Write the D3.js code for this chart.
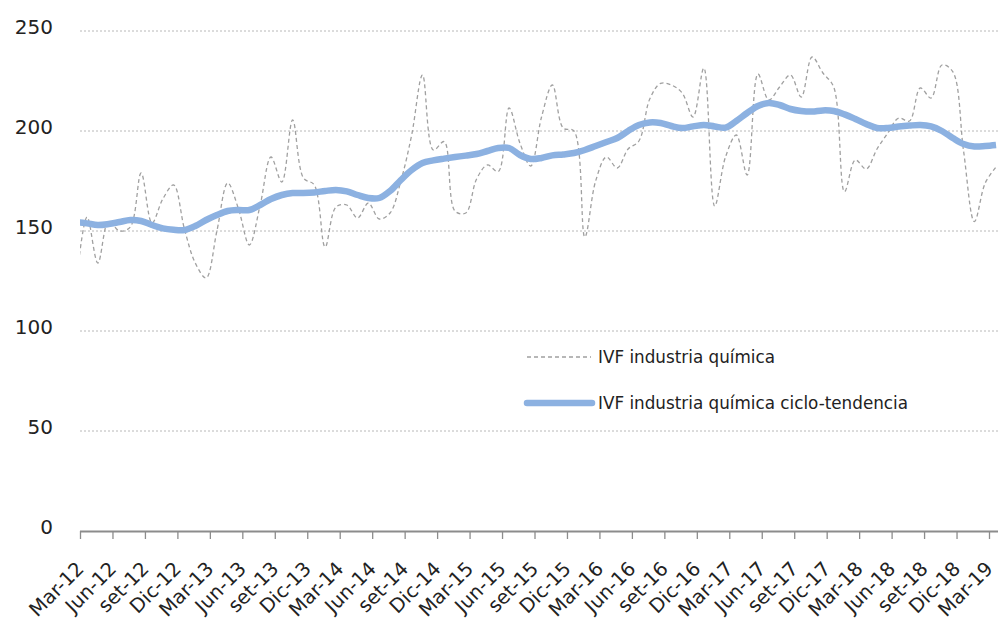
<!DOCTYPE html>
<html>
<head>
<meta charset="utf-8">
<script src="https://cdnjs.cloudflare.com/ajax/libs/d3/7.8.5/d3.min.js"></script>
<style>
  body { margin: 0; background: #fff; }
  svg { display: block; font-family: "DejaVu Sans", sans-serif; }
  .grid line { stroke: #b8b8b8; stroke-width: 1; stroke-dasharray: 2,2; }
  .ylab { font-size: 20px; fill: #222; }
  .xlab { font-size: 19.5px; fill: #222; }
  .legend text { font-size: 16.8px; fill: #222; }
</style>
</head>
<body>
<svg width="998" height="625"></svg>
<script>
// monthly series, Mar-12 .. Apr-19
var ivf = [124, 157, 134, 155, 150, 152, 179, 154, 166, 173, 151, 134,
  126.5, 150, 174, 161, 143, 163, 187, 174.5, 205.5, 176.5, 173, 142,
  162, 163, 156.5, 164, 156, 159, 175, 198, 228, 190.5, 194.7, 160,
  159, 176, 183, 179.7, 211.5, 194, 182.5, 207, 223, 201.5, 200, 147,
  175, 187, 181.5, 191, 195, 216, 223.8, 223, 219, 207, 231.5, 162.5,
  187, 198, 178, 228.5, 215.5, 222, 228, 217, 237, 229, 222, 169.7,
  185.5, 181, 191, 199, 206.5, 205, 221.5, 216.5, 233, 229.7, 190, 154.7,
  174, 182];

var ivfTrend = [154.5, 153.8, 153, 153.5, 154.5, 155.5, 155, 153, 151.3, 150.6, 150.5, 152.5,
  155.5, 158, 160, 160.5, 160.5, 163, 166, 168, 169, 169, 169.3, 170,
  170.5, 169.8, 168, 166.5, 166.5, 170, 175.5, 180.5, 184, 185.3, 186.2, 187,
  187.7, 188.5, 190, 191.5, 191.5, 188, 186, 186.5, 187.8, 188.3, 189, 190.5,
  192.5, 194.5, 196.5, 200, 203, 204.3, 204, 202.5, 201.5, 202.3, 203, 202.3,
  201.7, 205, 209, 212.5, 214, 213, 211, 210, 209.7, 210.3, 210, 208.3,
  206, 203.5, 201.5, 201.5, 202.2, 202.7, 203, 202.3, 200, 196.5, 193.5, 192.3,
  192.5, 193];

var tickLabels = ["Mar-12", "Jun-12", "set-12", "Dic-12", "Mar-13", "Jun-13", "set-13", "Dic-13",
  "Mar-14", "Jun-14", "set-14", "Dic-14", "Mar-15", "Jun-15", "set-15", "Dic-15",
  "Mar-16", "Jun-16", "set-16", "Dic-16", "Mar-17", "Jun-17", "set-17", "Dic-17",
  "Mar-18", "Jun-18", "set-18", "Dic-18", "Mar-19"];

var yTicks = [0, 50, 100, 150, 200, 250];

var seriesNames = ["IVF industria química", "IVF industria química ciclo-tendencia"];

(function () {
  var svg = d3.select("svg"),
      width = +svg.attr("width"),
      height = +svg.attr("height");

  var mLeft = 80, mRight = width, mTop = 31, mBottom = 531;

  // month index scale: Mar-12 = 0, Mar-19 = 84
  var x = d3.scaleLinear().domain([0, 84]).range([mLeft, 989]);
  var y = d3.scaleLinear().domain([0, 250]).range([mBottom, mTop]);
  var dataShift = -0.35;  // points sit a bit left of the month ticks

  svg.append("defs").append("clipPath").attr("id", "plot")
    .append("rect").attr("x", mLeft).attr("y", 0).attr("width", mRight - mLeft).attr("height", height);

  // gridlines
  svg.append("g").attr("class", "grid")
    .selectAll("line")
    .data(yTicks.filter(function (d) { return d > 0; }))
    .enter().append("line")
      .attr("x1", mLeft).attr("x2", mRight)
      .attr("y1", function (d) { return y(d); })
      .attr("y2", function (d) { return y(d); });

  // y labels
  svg.append("g")
    .selectAll("text")
    .data(yTicks)
    .enter().append("text")
      .attr("class", "ylab")
      .attr("x", 53)
      .attr("y", function (d) { return y(d) - 3; })
      .attr("text-anchor", "end")
      .attr("dy", "0.32em")
      .text(function (d) { return d; });

  // x axis
  var xAxis = d3.axisBottom(x)
    .tickValues(d3.range(0, 85, 3))
    .tickSize(8)
    .tickFormat("");

  var ax = svg.append("g")
    .attr("transform", "translate(0," + mBottom + ")")
    .call(xAxis);
  ax.select(".domain").attr("d", "M" + mLeft + ",0.5H" + mRight).attr("stroke", "#8c8c8c").attr("stroke-width", 2);
  ax.selectAll(".tick line").attr("stroke", "#8c8c8c").attr("stroke-width", 1.3);

  svg.append("g")
    .selectAll("text")
    .data(tickLabels)
    .enter().append("text")
      .attr("class", "xlab")
      .attr("text-anchor", "end")
      .attr("transform", function (d, i) {
        return "translate(" + (x(i * 3) + 5) + "," + (mBottom + 39) + ") rotate(-45)";
      })
      .text(function (d) { return d; });

  // lines
  var line = d3.line()
    .x(function (d, i) { return x(i + dataShift); })
    .y(function (d) { return y(d); })
    .curve(d3.curveCatmullRom.alpha(0.5));

  var plot = svg.append("g").attr("clip-path", "url(#plot)");

  plot.append("path")
    .datum(ivf)
    .attr("fill", "none")
    .attr("stroke", "#a0a0a0")
    .attr("stroke-width", 1.3)
    .attr("stroke-dasharray", "4,3")
    .attr("d", line);

  plot.append("path")
    .datum(ivfTrend)
    .attr("fill", "none")
    .attr("stroke", "#8cb1e1")
    .attr("stroke-width", 6.5)
    .attr("stroke-linejoin", "round")
    .attr("d", line);

  // legend
  var legend = svg.append("g").attr("class", "legend");
  var legendY = [357, 403];

  legend.append("line")
    .attr("x1", 527).attr("x2", 591)
    .attr("y1", legendY[0]).attr("y2", legendY[0])
    .attr("stroke", "#a0a0a0").attr("stroke-width", 1.3).attr("stroke-dasharray", "4,3");
  legend.append("line")
    .attr("x1", 527).attr("x2", 592)
    .attr("y1", legendY[1]).attr("y2", legendY[1])
    .attr("stroke", "#8cb1e1").attr("stroke-width", 6.5).attr("stroke-linecap", "round");

  legend.selectAll("text")
    .data(seriesNames)
    .enter().append("text")
      .attr("x", 598)
      .attr("y", function (d, i) { return legendY[i]; })
      .attr("dy", "0.35em")
      .text(function (d) { return d; });
})();
</script>
</body>
</html>
